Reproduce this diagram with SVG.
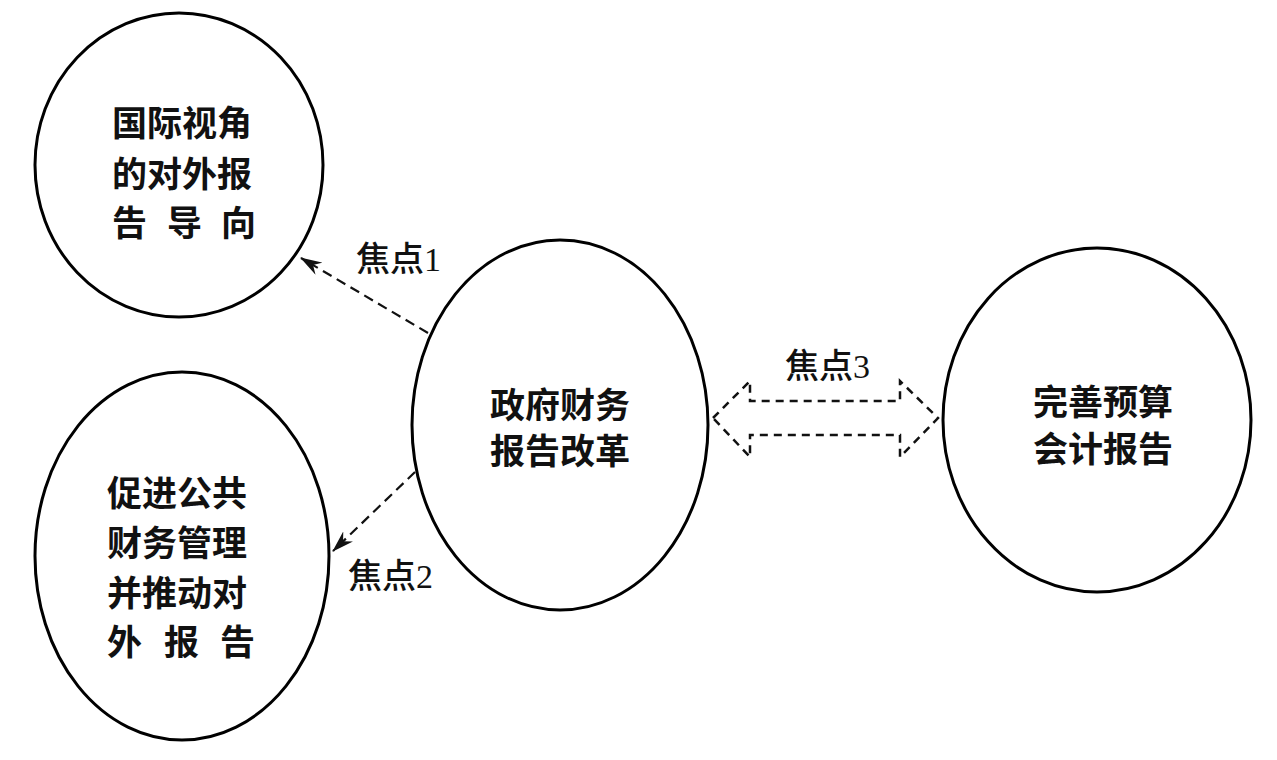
<svg xmlns="http://www.w3.org/2000/svg" width="1277" height="760" viewBox="0 0 1277 760">
<style>
.node ellipse{fill:#fff;stroke:#000;stroke-width:3}
.t{font-family:"Noto Sans CJK SC","Noto Sans",sans-serif;font-size:35px;font-weight:700;fill:#111;dominant-baseline:central}
.lbl{font-family:"Liberation Serif","Noto Sans CJK SC",serif;font-size:34px;font-weight:500;fill:#111;dominant-baseline:central}
.dash{fill:none;stroke:#111;stroke-width:2.2;stroke-dasharray:10 6}
.dbl{fill:none;stroke:#111;stroke-width:2.5;stroke-dasharray:8 6;stroke-linejoin:miter}
</style>
<defs>
<marker id="ah" viewBox="0 0 22 14" refX="21" refY="7" markerWidth="22" markerHeight="14" markerUnits="userSpaceOnUse" orient="auto">
<path d="M0,0 L22,7 L0,14 L7,7 Z" fill="#111"/>
</marker>
</defs>
<rect width="1277" height="760" fill="#fff"/>
<g id="connectors">
<line class="dash" x1="428" y1="333" x2="301" y2="258" marker-end="url(#ah)"/>
<line class="dash" x1="415" y1="472" x2="333" y2="551" marker-end="url(#ah)"/>
<path class="dbl" d="M713,418 L750,381 L750,401 L900,401 L900,381 L938,418 L900,457 L900,435 L750,435 L750,457 Z"/>
<text class="lbl" x="356" y="259">焦点1</text>
<text class="lbl" x="348" y="576">焦点2</text>
<text class="lbl" x="785" y="366">焦点3</text>
</g>
<g id="n1" class="node">
<ellipse cx="179" cy="165" rx="144" ry="152"/>
<text class="t" x="112" y="120">国际视角</text>
<text class="t" x="112" y="171">的对外报</text>
<text class="t" x="112 167 221" y="220">告导向</text>
</g>
<g id="n2" class="node">
<ellipse cx="182" cy="556" rx="147" ry="184"/>
<text class="t" x="107" y="490">促进公共</text>
<text class="t" x="107" y="540">财务管理</text>
<text class="t" x="107" y="590">并推动对</text>
<text class="t" x="107 164 220" y="639">外报告</text>
</g>
<g id="n3" class="node">
<ellipse cx="560" cy="425" rx="148" ry="185"/>
<text class="t" x="490" y="402">政府财务</text>
<text class="t" x="490" y="448">报告改革</text>
</g>
<g id="n4" class="node">
<ellipse cx="1097" cy="420" rx="154" ry="172"/>
<text class="t" x="1033" y="399">完善预算</text>
<text class="t" x="1033" y="446">会计报告</text>
</g>
</svg>
